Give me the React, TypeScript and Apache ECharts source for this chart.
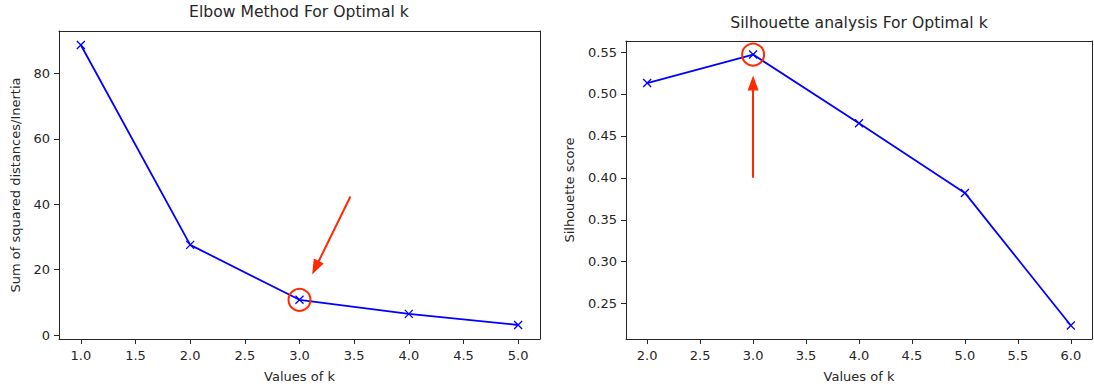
import React, { useEffect, useRef } from 'react';
import * as echarts from 'echarts';

const elbowK = [1, 2, 3, 4, 5];
const elbowInertia = [88.7, 27.6, 10.8, 6.5, 3.1];
const silK = [2, 3, 4, 5, 6];
const silScore = [0.513, 0.547, 0.465, 0.382, 0.224];

const elbowXTicks = [1.0, 1.5, 2.0, 2.5, 3.0, 3.5, 4.0, 4.5, 5.0];
const elbowYTicks = [0, 20, 40, 60, 80];
const silXTicks = [2.0, 2.5, 3.0, 3.5, 4.0, 4.5, 5.0, 5.5, 6.0];
const silYTicks = [0.25, 0.3, 0.35, 0.4, 0.45, 0.5, 0.55];

const elbowTitle = 'Elbow Method For Optimal k';
const silTitle = 'Silhouette analysis For Optimal k';
const xName = 'Values of k';
const elbowYName = 'Sum of squared distances/Inertia';
const silYName = 'Silhouette score';

// annotations (data coordinates)
const elbowHighlight = [3, 10.8];
const elbowArrow = [[3.466, 42.4], [3.146, 20.6]];
const silHighlight = [3, 0.547];
const silArrow = [[3, 0.4], [3, 0.513]];

const FONT = 'DejaVu Sans';
const TXT = '#262626';
const BLUE = '#0000ff';
const RED = '#ff2a00';

const pad = (vals: number[]) => {
  const mn = Math.min(...vals);
  const mx = Math.max(...vals);
  const d = (mx - mn) * 0.05;
  return [mn - d, mx + d];
};

const xSymbol = 'path://M0,0L10,10M10,0L0,10';

function makeAxis(
  kind: 'x' | 'y',
  gridIndex: number,
  vals: number[],
  ticks: number[],
  digits: number,
  name: string,
  gap: number
) {
  const [mn, mx] = pad(vals);
  return {
    type: 'value',
    gridIndex,
    position: kind === 'x' ? 'bottom' : 'left',
    min: mn,
    max: mx,
    name,
    nameLocation: 'middle',
    nameGap: gap,
    nameTextStyle: { fontFamily: FONT, fontSize: 13, color: TXT },
    axisLine: { show: true, onZero: false, lineStyle: { color: TXT, width: 1 } },
    axisTick: { show: true, length: 5, customValues: ticks, lineStyle: { color: TXT, width: 1 } },
    axisLabel: {
      show: true,
      margin: kind === 'x' ? 10 : 9,
      fontFamily: FONT,
      fontSize: 13,
      color: TXT,
      customValues: ticks,
      formatter: (v: number) => v.toFixed(digits),
    },
    splitLine: { show: false },
  };
}

function makeFrameAxis(kind: 'x' | 'y', gridIndex: number, vals: number[]) {
  const [mn, mx] = pad(vals);
  return {
    type: 'value',
    gridIndex,
    position: kind === 'x' ? 'top' : 'right',
    min: mn,
    max: mx,
    axisLine: { show: true, onZero: false, lineStyle: { color: TXT, width: 1 } },
    axisTick: { show: false },
    axisLabel: { show: false },
    splitLine: { show: false },
  };
}

function makeSeries(idx: number, xs: number[], ys: number[], hl: number[], arrow: number[][]) {
  return {
    type: 'line',
    xAxisIndex: idx,
    yAxisIndex: idx,
    data: xs.map((x, i) => [x, ys[i]]),
    symbol: xSymbol,
    symbolSize: 8,
    showSymbol: true,
    lineStyle: { color: BLUE, width: 1.8 },
    itemStyle: { color: 'rgba(0,0,0,0)', borderColor: BLUE, borderWidth: 1.3 },
    emphasis: { disabled: true },
    silent: true,
    markPoint: {
      silent: true,
      symbol: 'circle',
      symbolSize: 22,
      itemStyle: { color: 'rgba(0,0,0,0)', borderColor: RED, borderWidth: 2 },
      label: { show: false },
      data: [{ coord: hl }],
    },
    markLine: {
      silent: true,
      symbol: ['none', 'triangle'],
      symbolSize: [11, 15],
      label: { show: false },
      lineStyle: { color: RED, width: 2, type: 'solid' },
      itemStyle: { color: RED },
      data: [[{ coord: arrow[0] }, { coord: arrow[1] }]],
    },
  };
}

export default function App() {
  const ref = useRef<HTMLDivElement>(null);
  useEffect(() => {
    if (!ref.current) return;
    const chart = echarts.init(ref.current, undefined, { renderer: 'svg' });
    chart.setOption({
      animation: false,
      backgroundColor: '#ffffff',
      title: [
        {
          text: elbowTitle,
          left: 299,
          top: 4,
          textAlign: 'center',
          padding: 0,
          textStyle: { fontFamily: FONT, fontSize: 15.6, fontWeight: 'normal', color: TXT },
        },
        {
          text: silTitle,
          left: 859,
          top: 15,
          textAlign: 'center',
          padding: 0,
          textStyle: { fontFamily: FONT, fontSize: 15.6, fontWeight: 'normal', color: TXT },
        },
      ],
      grid: [
        { left: 59, top: 31, width: 481, height: 311, show: false },
        { left: 626, top: 41, width: 466, height: 302, show: false },
      ],
      xAxis: [
        makeAxis('x', 0, elbowK, elbowXTicks, 1, xName, 31),
        makeAxis('x', 1, silK, silXTicks, 1, xName, 31),
        makeFrameAxis('x', 0, elbowK),
        makeFrameAxis('x', 1, silK),
      ],
      yAxis: [
        makeAxis('y', 0, elbowInertia, elbowYTicks, 0, elbowYName, 37),
        makeAxis('y', 1, silScore, silYTicks, 2, silYName, 50),
        makeFrameAxis('y', 0, elbowInertia),
        makeFrameAxis('y', 1, silScore),
      ],
      series: [
        makeSeries(0, elbowK, elbowInertia, elbowHighlight, elbowArrow),
        makeSeries(1, silK, silScore, silHighlight, silArrow),
      ],
    });
    return () => chart.dispose();
  }, []);
  return (
    <div
      ref={ref}
      style={{ position: 'absolute', left: 0, top: 0, width: 1094, height: 388 }}
    />
  );
}
